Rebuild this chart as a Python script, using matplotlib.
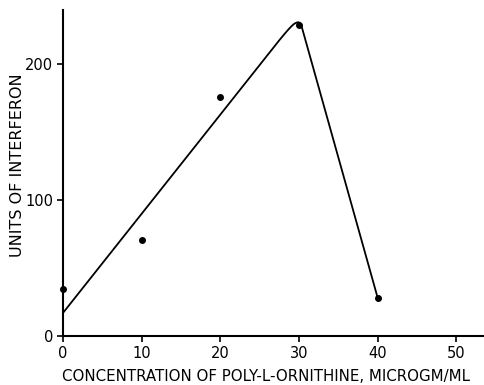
import matplotlib
matplotlib.use("Agg")
import matplotlib.pyplot as plt

# measured points
conc = [0, 10, 20, 30, 40]
units = [35, 71, 176, 229, 28]

# hand-drawn fitted curve
curve_x = [0, 27.5, 28.2, 28.7, 29.1, 29.4, 29.7, 29.95, 30.15, 30.3, 40]
curve_y = [17, 217.8, 222.7, 226.0, 228.4, 229.9, 230.8, 231.0, 230.2, 228.5, 28]

xticks = [0, 10, 20, 30, 40, 50]
yticks = [0, 100, 200]

plt.rcParams['font.family'] = 'DejaVu Sans'

fig = plt.figure(figsize=(4.84, 3.85), dpi=100)
ax = fig.add_axes([0.130, 0.127, 0.870, 0.847])

ax.plot(curve_x, curve_y, color='black', lw=1.3, solid_joinstyle='round')
ax.plot(conc, units, 'o', color='black', ms=4, clip_on=False, zorder=3)

ax.set_xlim(0, 53.5)
ax.set_ylim(0, 240)
ax.set_xticks(xticks)
ax.set_yticks(yticks)
ax.tick_params(direction='out', length=4, width=1.2, labelsize=10.5, pad=3)

for s in ['top', 'right']:
    ax.spines[s].set_visible(False)
for s in ['left', 'bottom']:
    ax.spines[s].set_linewidth(1.5)

ax.set_xlabel('CONCENTRATION OF POLY-L-ORNITHINE, MICROGM/ML', fontsize=10.8)
ax.set_ylabel('UNITS OF INTERFERON', fontsize=11.5)
ax.xaxis.set_label_coords(0.483, -0.10)
ax.yaxis.set_label_coords(-0.09, 0.525)

fig.savefig('out.png', dpi=100)
